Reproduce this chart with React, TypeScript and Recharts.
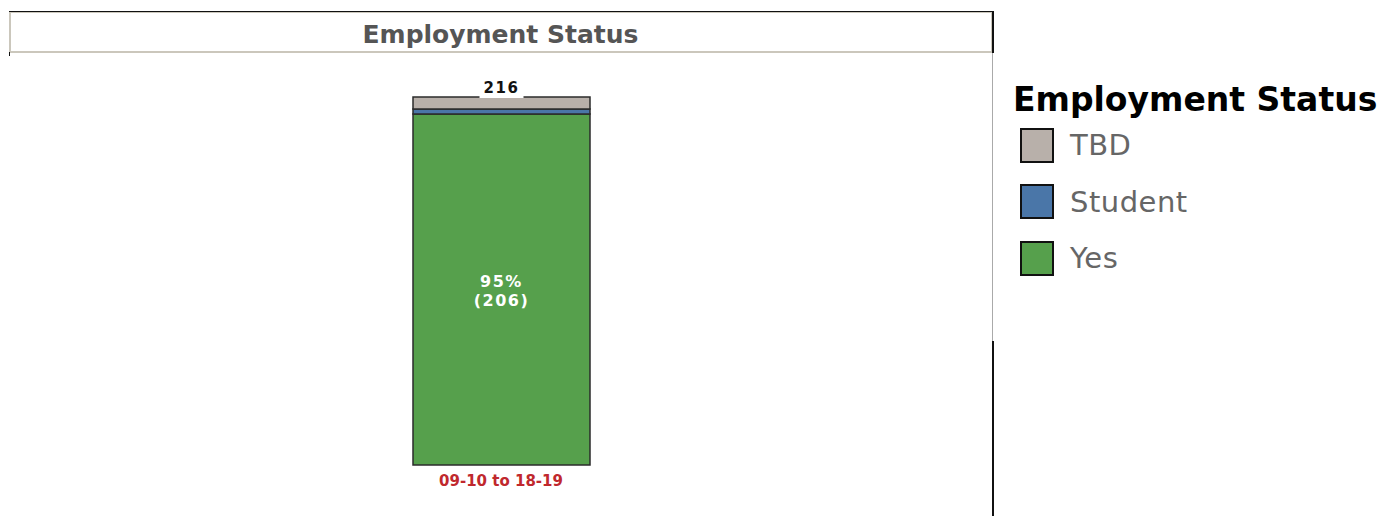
import { Bar, BarChart, LabelList, Legend, XAxis, YAxis } from "recharts"

const categories = ["09-10 to 18-19"]
const yesValues = [206]
const studentValues = [3]
const tbdValues = [7]

const series = [
  { key: "tbd", name: "TBD", color: "#b8b0aa" },
  { key: "student", name: "Student", color: "#4a76a8" },
  { key: "yes", name: "Yes", color: "#56a04c" },
]

const data = categories.map((cat, i) => ({
  cat,
  yes: yesValues[i],
  student: studentValues[i],
  tbd: tbdValues[i],
  total: yesValues[i] + studentValues[i] + tbdValues[i],
}))

const font = "'DejaVu Sans', Verdana, sans-serif"

const TotalLabel = (props: any) => {
  const { x, y, width, value } = props
  const cx = x + width / 2
  return (
    <g>
      <rect x={cx - 22} y={y - 18} width={44} height={19} fill="#fff" />
      <text x={cx} y={y - 4} textAnchor="middle" fontFamily={font} fontWeight="bold" fontSize={15} letterSpacing={1.5} fill="#111">
        {value}
      </text>
    </g>
  )
}

const InnerLabel = (props: any) => {
  const { x, y, width, height, value, index } = props
  const cx = x + width / 2
  const cy = y + height / 2
  const pct = Math.round((value / data[index].total) * 100)
  return (
    <text textAnchor="middle" fontFamily={font} fontWeight="bold" fontSize={16} letterSpacing={1.5} fill="#fff">
      <tspan x={cx} y={cy - 3}>{pct}%</tspan>
      <tspan x={cx} y={cy + 16}>({value})</tspan>
    </text>
  )
}

const CatTick = (props: any) => {
  const { x, y, payload } = props
  return (
    <text x={x} y={y + 21} textAnchor="middle" fontFamily={font} fontWeight="bold" fontSize={15} fill="#c0282d">
      {payload.value}
    </text>
  )
}

const LegendBox = () => (
  <div style={{ paddingLeft: 20, fontFamily: font }}>
    <div style={{ fontWeight: "bold", fontSize: 33, lineHeight: "35px", color: "#000", whiteSpace: "nowrap" }}>
      Employment Status
    </div>
    {series.map((s) => (
      <div key={s.key} style={{ display: "flex", alignItems: "center", height: 56.5 }}>
        <div
          style={{
            width: 34,
            height: 35,
            boxSizing: "border-box",
            border: "2px solid #111",
            background: s.color,
            marginLeft: 7,
            marginRight: 16,
          }}
        />
        <span style={{ fontSize: 29, color: "#666", letterSpacing: 0.5 }}>{s.name}</span>
      </div>
    ))}
  </div>
)

export default function App() {
  return (
    <div style={{ position: "absolute", left: 0, top: 0, width: 1383, height: 516, background: "#fff" }}>
      <div
        style={{
          position: "absolute",
          left: 9,
          top: 11,
          width: 985,
          height: 42,
          boxSizing: "border-box",
          borderTop: "1px solid #111",
          borderRight: "2px solid #111",
        }}
      >
        <div
          style={{
            position: "absolute",
            inset: 0,
            borderTop: "1px solid #cbc7bc",
            borderLeft: "2px solid #cbc7bc",
            borderRight: "1px solid #cbc7bc",
            borderBottom: "2px solid #cbc7bc",
          }}
        />
        <div
          style={{
            position: "absolute",
            left: 0,
            right: 0,
            top: 8,
            textAlign: "center",
            fontFamily: font,
            fontWeight: "bold",
            fontSize: 25,
            lineHeight: "29px",
            color: "#555",
          }}
        >
          Employment Status
        </div>
      </div>
      <div style={{ position: "absolute", left: 9, top: 52, width: 1, height: 4, background: "#111" }} />
      <div style={{ position: "absolute", left: 992, top: 53, width: 1, height: 288, background: "#aaa" }} />
      <div style={{ position: "absolute", left: 992, top: 341, width: 2, height: 175, background: "#111" }} />
      <div style={{ position: "absolute", left: 0, top: 0 }}>
        <BarChart width={1383} height={516} data={data} margin={{ top: 97, right: 0, bottom: 21, left: 9 }}>
          <XAxis
            dataKey="cat"
            axisLine={false}
            tickLine={false}
            tickSize={0}
            tickMargin={0}
            height={30}
            tick={<CatTick />}
          />
          <YAxis hide domain={[0, 216]} />
          <Legend
            layout="vertical"
            align="right"
            verticalAlign="top"
            content={<LegendBox />}
            wrapperStyle={{ top: 82, right: 0, width: 390 }}
          />
          <Bar dataKey="yes" name="Yes" stackId="a" fill="#56a04c" stroke="#2b2b2b" strokeWidth={1.5} barSize={177} isAnimationActive={false}>
            <LabelList dataKey="yes" content={<InnerLabel />} />
          </Bar>
          <Bar dataKey="student" name="Student" stackId="a" fill="#4a76a8" stroke="#2b2b2b" strokeWidth={1.5} barSize={177} isAnimationActive={false} />
          <Bar dataKey="tbd" name="TBD" stackId="a" fill="#b8b0aa" stroke="#2b2b2b" strokeWidth={1.5} barSize={177} isAnimationActive={false}>
            <LabelList dataKey="total" content={<TotalLabel />} />
          </Bar>
        </BarChart>
      </div>
    </div>
  )
}
